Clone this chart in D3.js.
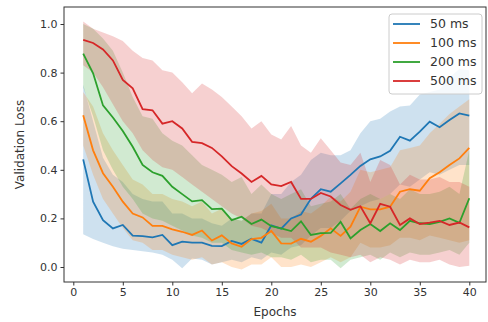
<!DOCTYPE html>
<html>
<head>
<meta charset="utf-8">
<script src="https://cdn.jsdelivr.net/npm/d3@7"></script>
<style>
  body { margin: 0; background: #fff; }
  svg { display: block; font-family: "DejaVu Sans", sans-serif; }
</style>
</head>
<body>
<div class="chart"></div>
<script>
// epochs on the x axis
var epochs = [1,2,3,4,5,6,7,8,9,10,11,12,13,14,15,16,17,18,19,20,
              21,22,23,24,25,26,27,28,29,30,31,32,33,34,35,36,37,38,39,40];

var seriesNames = ['50 ms', '100 ms', '200 ms', '500 ms'];
var colors = ['#1f77b4', '#ff7f0e', '#2ca02c', '#d62728'];

// mean validation loss per series
var loss50 = [0.443,0.269,0.193,0.159,0.173,0.129,0.127,0.122,0.132,0.090,
              0.104,0.100,0.100,0.087,0.086,0.107,0.095,0.116,0.100,0.171,
              0.158,0.200,0.216,0.281,0.320,0.310,0.344,0.379,0.416,0.443,
              0.455,0.478,0.536,0.520,0.557,0.598,0.575,0.605,0.632,0.623];
var loss100 = [0.624,0.480,0.386,0.330,0.269,0.220,0.204,0.169,0.169,0.155,
               0.145,0.132,0.150,0.109,0.130,0.097,0.083,0.115,0.120,0.148,
               0.097,0.096,0.116,0.104,0.128,0.159,0.128,0.166,0.248,0.237,
               0.237,0.248,0.310,0.320,0.314,0.365,0.390,0.420,0.447,0.490];
var loss200 = [0.878,0.797,0.665,0.615,0.560,0.495,0.420,0.390,0.375,0.330,
               0.300,0.270,0.275,0.238,0.240,0.193,0.207,0.177,0.195,0.168,
               0.159,0.148,0.188,0.132,0.139,0.140,0.186,0.118,0.152,0.177,
               0.148,0.180,0.152,0.190,0.180,0.177,0.186,0.200,0.182,0.283];
var loss500 = [0.935,0.922,0.895,0.850,0.770,0.735,0.650,0.645,0.590,0.600,
               0.570,0.515,0.510,0.490,0.455,0.415,0.385,0.350,0.375,0.340,
               0.333,0.350,0.280,0.280,0.305,0.290,0.255,0.235,0.250,0.180,
               0.260,0.248,0.173,0.200,0.177,0.183,0.190,0.173,0.183,0.163];

// shaded band, lower and upper edge
var lo50 = [0.135,0.115,0.100,0.085,0.075,0.070,0.065,0.060,0.050,0.030,
            -0.005,0.035,0.030,0.010,0.020,0.030,0.020,0.040,0.030,0.060,
            0.050,0.080,0.090,0.130,0.160,0.160,0.190,0.230,0.250,0.270,
            0.280,0.300,0.340,0.330,0.360,0.390,0.380,0.400,0.420,0.420];
var hi50 = [0.750,0.600,0.450,0.380,0.350,0.300,0.280,0.270,0.270,0.220,
            0.220,0.200,0.200,0.180,0.170,0.200,0.190,0.220,0.220,0.300,
            0.300,0.350,0.380,0.440,0.470,0.460,0.460,0.480,0.550,0.600,
            0.610,0.640,0.660,0.665,0.710,0.720,0.730,0.780,0.815,0.810];
var lo100 = [0.500,0.380,0.280,0.220,0.160,0.110,0.100,0.070,0.070,0.050,
             0.040,0.030,0.040,0.010,0.020,0.000,-0.010,0.010,0.010,0.040,
             0.000,0.000,0.010,0.000,0.020,0.040,0.020,0.040,0.100,0.080,
             0.080,0.090,0.120,0.120,0.110,0.130,0.120,0.110,0.100,0.110];
var hi100 = [0.720,0.660,0.550,0.480,0.420,0.360,0.340,0.300,0.300,0.280,
             0.270,0.250,0.270,0.220,0.240,0.200,0.190,0.220,0.230,0.260,
             0.200,0.200,0.230,0.220,0.250,0.290,0.270,0.310,0.400,0.390,
             0.400,0.410,0.480,0.490,0.500,0.550,0.590,0.630,0.660,0.690];
var lo200 = [0.740,0.620,0.480,0.400,0.330,0.280,0.220,0.200,0.190,0.170,
             0.150,0.130,0.120,0.100,0.100,0.070,0.060,0.050,0.060,0.040,
             0.040,0.030,0.050,0.020,0.030,0.030,-0.005,0.030,0.040,0.050,
             0.030,0.060,0.040,0.060,0.050,0.050,0.060,0.070,0.050,0.100];
var hi200 = [1.000,0.980,0.940,0.890,0.800,0.700,0.620,0.610,0.550,0.520,
             0.500,0.460,0.420,0.400,0.380,0.350,0.370,0.300,0.340,0.300,
             0.280,0.300,0.320,0.250,0.260,0.270,0.300,0.240,0.280,0.300,
             0.280,0.300,0.280,0.320,0.300,0.300,0.310,0.330,0.300,0.480];
var lo500 = [0.830,0.800,0.740,0.670,0.600,0.550,0.480,0.440,0.410,0.400,
             0.370,0.340,0.310,0.280,0.250,0.220,0.200,0.170,0.160,0.140,
             0.120,0.120,0.080,0.080,0.080,0.060,0.050,0.040,0.050,0.020,
             0.040,0.030,0.010,0.030,0.020,0.020,0.030,0.010,0.000,0.005];
var hi500 = [1.010,0.980,0.965,0.950,0.930,0.890,0.860,0.850,0.810,0.800,
             0.760,0.715,0.755,0.730,0.700,0.660,0.620,0.570,0.600,0.545,
             0.525,0.580,0.500,0.470,0.530,0.480,0.430,0.420,0.470,0.350,
             0.440,0.420,0.340,0.380,0.360,0.360,0.370,0.350,0.350,0.330];

var xTicks = [0,5,10,15,20,25,30,35,40];
var yTicks = [0,0.2,0.4,0.6,0.8,1.0];

var means = [loss50, loss100, loss200, loss500];
var lows = [lo50, lo100, lo200, lo500];
var highs = [hi50, hi100, hi200, hi500];

var width = 488, height = 322;
// plot frame edges (note: "top" is taken by window.top)
var fLeft = 64, fRight = 486, fTop = 7, fBottom = 282;

var svg = d3.select('.chart').append('svg')
  .attr('width', width).attr('height', height);

var x = d3.scaleLinear().domain([0, 40]).range([73.3, 469.3]);
var y = d3.scaleLinear().domain([0, 1]).range([267, 24]);

// bands first, lines on top
var area = d3.area()
  .x(function(d){ return x(d.e); })
  .y0(function(d){ return y(d.lo); })
  .y1(function(d){ return y(d.hi); });
var line = d3.line()
  .x(function(d){ return x(d.e); })
  .y(function(d){ return y(d.v); });

var plot = svg.append('g');
means.forEach(function(m, k){
  var rows = epochs.map(function(e, i){ return {e: e, lo: lows[k][i], hi: highs[k][i]}; });
  plot.append('path').datum(rows)
    .attr('d', area)
    .attr('fill', colors[k])
    .attr('fill-opacity', 0.22);
});
means.forEach(function(m, k){
  var rows = epochs.map(function(e, i){ return {e: e, v: m[i]}; });
  plot.append('path').datum(rows)
    .attr('d', line)
    .attr('fill', 'none')
    .attr('stroke', colors[k])
    .attr('stroke-width', 1.8);
});

// frame
svg.append('rect')
  .attr('x', fLeft).attr('y', fTop)
  .attr('width', fRight - fLeft).attr('height', fBottom - fTop)
  .attr('fill', 'none').attr('stroke', '#333').attr('stroke-width', 1);

// axes
var xAxis = svg.append('g').attr('transform', 'translate(0,' + fBottom + ')')
  .call(d3.axisBottom(x).tickValues(xTicks).tickSize(3.5).tickPadding(3));
var yAxis = svg.append('g').attr('transform', 'translate(' + fLeft + ',0)')
  .call(d3.axisLeft(y).tickValues(yTicks).tickFormat(d3.format('.1f')).tickSize(3.5).tickPadding(3));
[xAxis, yAxis].forEach(function(a){
  a.select('.domain').remove();
  a.selectAll('line').attr('stroke', '#333');
  a.selectAll('text').attr('fill', '#333').style('font-size', '11px')
    .style('font-family', '"DejaVu Sans", sans-serif');
});

svg.append('text')
  .attr('x', (fLeft + fRight) / 2).attr('y', 316)
  .attr('text-anchor', 'middle')
  .attr('fill', '#333').style('font-size', '12px')
  .text('Epochs');
svg.append('text')
  .attr('transform', 'translate(24,' + (fTop + fBottom) / 2 + ') rotate(-90)')
  .attr('text-anchor', 'middle')
  .attr('fill', '#333').style('font-size', '12px')
  .text('Validation Loss');

// legend
var lg = svg.append('g');
lg.append('rect')
  .attr('x', 389).attr('y', 14).attr('width', 93).attr('height', 80).attr('rx', 3)
  .attr('fill', '#fff').attr('fill-opacity', 0.8)
  .attr('stroke', '#ccc');
seriesNames.forEach(function(n, k){
  var ly = 24 + k * 19;
  lg.append('line')
    .attr('x1', 393).attr('x2', 420).attr('y1', ly).attr('y2', ly)
    .attr('stroke', colors[k]).attr('stroke-width', 1.8);
  lg.append('text')
    .attr('x', 430).attr('y', ly).attr('dy', '0.35em')
    .attr('fill', '#333').style('font-size', '12.5px')
    .text(n);
});
</script>
</body>
</html>
